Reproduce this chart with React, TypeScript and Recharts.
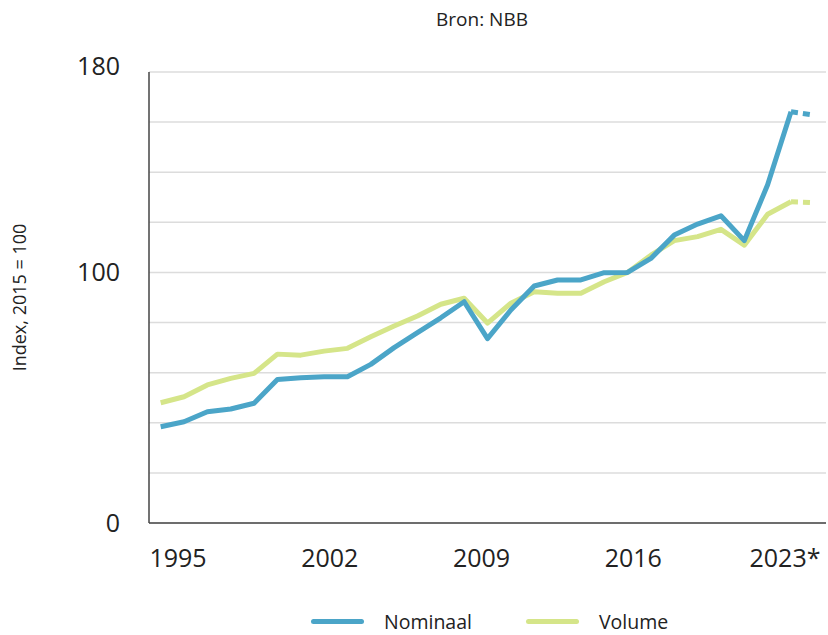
import { LineChart, Line, XAxis, YAxis, CartesianGrid } from 'recharts';

const years = [
  1995, 1996, 1997, 1998, 1999, 2000, 2001, 2002, 2003, 2004, 2005, 2006, 2007, 2008, 2009,
  2010, 2011, 2012, 2013, 2014, 2015, 2016, 2017, 2018, 2019, 2020, 2021, 2022, 2023,
];
const nominaal = [
  38.4, 40.4, 44.4, 45.5, 47.8, 57.3, 58.0, 58.4, 58.4, 63.3, 70.0, 76.0, 81.9, 88.3, 73.6,
  85.0, 94.6, 97.0, 97.0, 99.9, 100.0, 105.6, 114.9, 119.3, 122.6, 112.7, 135.0, 164.1, 162.8,
];
const volume = [
  48.0, 50.4, 55.1, 57.7, 59.7, 67.4, 67.0, 68.6, 69.7, 74.3, 78.6, 82.6, 87.3, 89.7, 79.8,
  87.7, 92.3, 91.7, 91.7, 96.3, 100.0, 106.9, 112.7, 114.3, 117.2, 110.9, 123.2, 128.2, 127.8,
];
// last year is an estimate -> dashed
const projectedFrom = 2022;
const xTicks = [1995, 2002, 2009, 2016, 2023];
const xLabels = ['1995', '2002', '2009', '2016', '2023*'];
const yTicks = [0, 20, 40, 60, 80, 100, 120, 140, 160, 180];
const yLabelled = [0, 100, 180];
const yMax = 180;

const BLUE = '#4ba5c8';
const GREEN = '#d5e589';
const FONT = '"Open Sans", sans-serif';

const lastYear = years[years.length - 1];
const data = years.map((year, i) => ({
  year,
  nominaal: year < lastYear ? nominaal[i] : null,
  volume: year < lastYear ? volume[i] : null,
  nominaalProj: year >= projectedFrom ? nominaal[i] : null,
  volumeProj: year >= projectedFrom ? volume[i] : null,
}));

const legendItems = [
  { name: 'Nominaal', color: BLUE },
  { name: 'Volume', color: GREEN },
];

// y tick: only 0 / 100 / 180 get a label, the top one sits a bit higher
function YTick(props: any) {
  const { x, y, payload } = props;
  const v = payload.value;
  if (!yLabelled.includes(v)) return null;
  return (
    <text x={x} y={y} dy={v === yMax ? '0.35em' : '0.35em'} transform={v === yMax ? 'translate(0,-6)' : undefined}
      textAnchor="end" fill="#222" fontSize={25} fontFamily={FONT}>
      {v}
    </text>
  );
}

export default function App() {
  return (
    <div style={{ position: 'absolute', left: 0, top: 0, width: 828, height: 635, fontFamily: FONT }}>
      <div
        style={{
          position: 'absolute',
          top: 6,
          left: 0,
          width: 828,
          paddingLeft: 136,
          boxSizing: 'border-box',
          textAlign: 'center',
          fontSize: 19,
          color: '#222',
        }}
      >
        Bron: NBB
      </div>
      <LineChart
        width={828}
        height={635}
        data={data}
        margin={{ top: 72, right: 2, bottom: 52, left: 0 }}
        style={{ fontFamily: FONT }}
      >
        <CartesianGrid vertical={false} stroke="#dcdcdc" strokeWidth={1.5} />
        <XAxis xAxisId="main" dataKey="year" type="number" domain={[1994.5, 2023.5]} hide />
        {/* labels in the original are spread evenly along the axis, not on the data years */}
        <XAxis
          xAxisId="lbl"
          dataKey="year"
          type="number"
          domain={[1995, 2023]}
          ticks={xTicks}
          interval={0}
          tickFormatter={(v: number) => xLabels[xTicks.indexOf(v)]}
          padding={{ left: 29, right: 41 }}
          height={60}
          axisLine={{ stroke: '#444', strokeWidth: 1.5 }}
          tickLine={false}
          tickSize={0}
          tickMargin={26}
          tick={{ fill: '#222', fontSize: 25 }}
        />
        <YAxis
          type="number"
          domain={[0, yMax]}
          ticks={yTicks}
          interval={0}
          width={149}
          axisLine={{ stroke: '#444', strokeWidth: 1.5 }}
          tickLine={false}
          tickSize={0}
          tickMargin={29}
          tick={<YTick />}
          label={{
            value: 'Index, 2015 = 100',
            angle: -90,
            position: 'insideLeft',
            offset: 20,
            style: { textAnchor: 'middle', fill: '#222', fontSize: 18 },
          }}
        />
        <Line xAxisId="main" dataKey="volume" stroke={GREEN} strokeWidth={5} dot={false} strokeLinejoin="round" isAnimationActive={false} />
        <Line xAxisId="main" dataKey="volumeProj" stroke={GREEN} strokeWidth={5} strokeDasharray="7 5" dot={false} isAnimationActive={false} />
        <Line xAxisId="main" dataKey="nominaal" stroke={BLUE} strokeWidth={5} dot={false} strokeLinejoin="round" isAnimationActive={false} />
        <Line xAxisId="main" dataKey="nominaalProj" stroke={BLUE} strokeWidth={5} strokeDasharray="7 5" dot={false} isAnimationActive={false} />
      </LineChart>
      <div
        style={{
          position: 'absolute',
          top: 608,
          left: 311,
          display: 'flex',
          alignItems: 'center',
          fontSize: 19.5,
          color: '#222',
        }}
      >
        {legendItems.map((it) => (
          <div key={it.name} style={{ display: 'flex', alignItems: 'center', marginRight: 54 }}>
            <span style={{ display: 'inline-block', width: 53, height: 5, borderRadius: 3, background: it.color, marginRight: 20 }} />
            <span>{it.name}</span>
          </div>
        ))}
      </div>
    </div>
  );
}
